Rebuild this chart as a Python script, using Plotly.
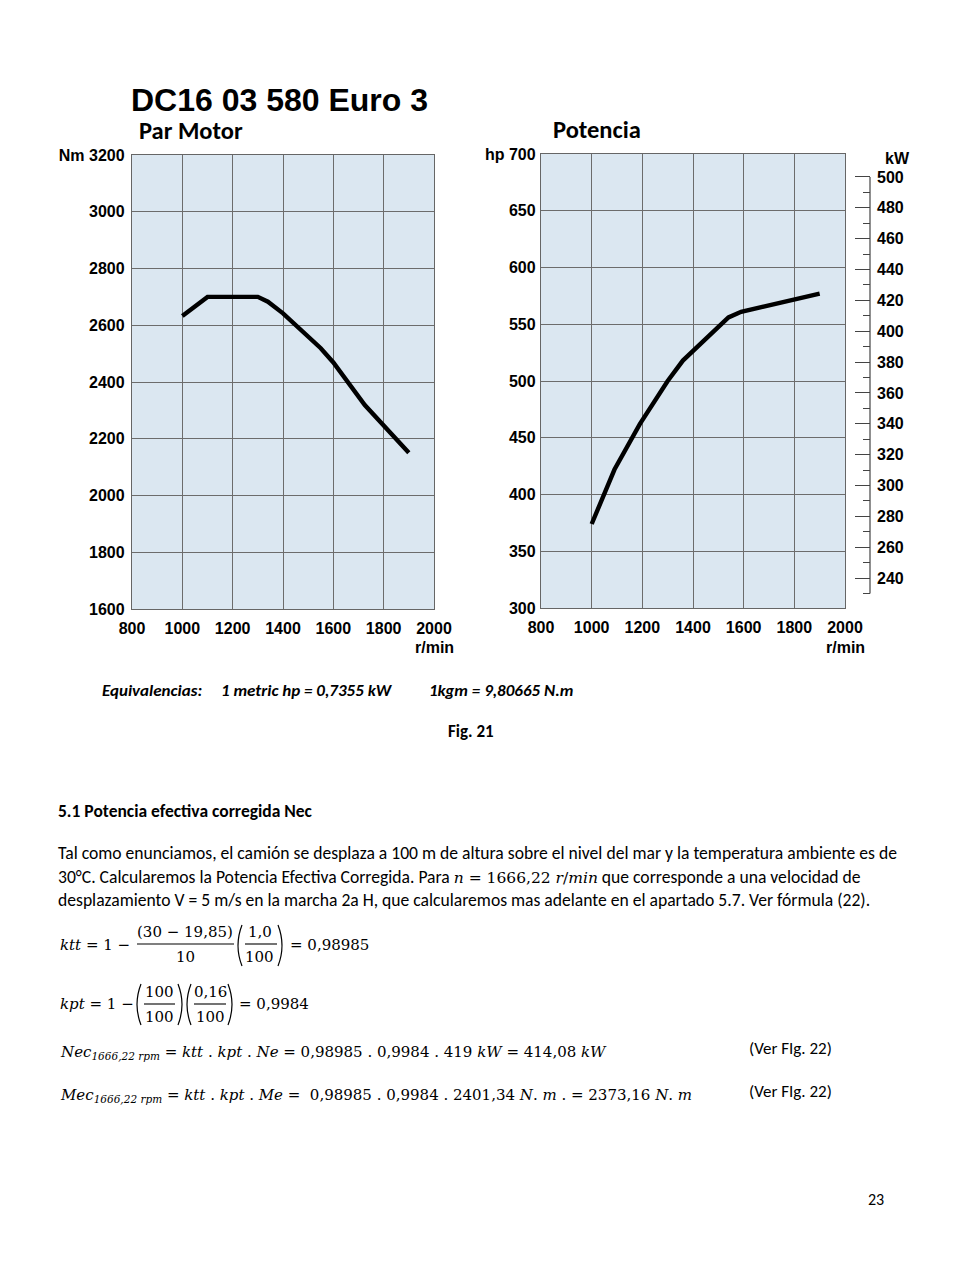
import plotly.graph_objects as go

# ---------------- data ----------------
rpm_ticks = [800, 1000, 1200, 1400, 1600, 1800, 2000]
nm_ticks = [1600, 1800, 2000, 2200, 2400, 2600, 2800, 3000, 3200]
nm_ticktext = ["1600", "1800", "2000", "2200", "2400", "2600", "2800", "3000", "Nm 3200"]
hp_ticks = [300, 350, 400, 450, 500, 550, 600, 650, 700]
hp_ticktext = ["300", "350", "400", "450", "500", "550", "600", "650", "hp 700"]
kw_ticks = [240, 260, 280, 300, 320, 340, 360, 380, 400, 420, 440, 460, 480, 500]
kw_minor = [230, 250, 270, 290, 310, 330, 350, 370, 390, 410, 430, 450, 470, 490]
HP_TO_KW = 0.7355

torque_rpm = [1000, 1100, 1300, 1340, 1400, 1550, 1600, 1725, 1900]
torque_nm = [2633, 2700, 2700, 2683, 2642, 2519, 2469, 2319, 2151]

power_rpm = [1000, 1090, 1190, 1300, 1360, 1540, 1590, 1900]
power_hp = [374, 422, 462, 500, 518, 556, 561, 577]
power_kw = [h * HP_TO_KW for h in power_hp]

# ---------------- helpers ----------------
W, H = 980, 1268
OX, OY = 8, 8  # page body margin offset


def X(px):
    return (px - OX) / W


def Y(py):
    return 1 - (py - OY) / H


AX_FONT = "Liberation Sans, Arial, sans-serif"
BODY = "Carlito, Lato, sans-serif"
MATH = "DejaVu Serif, Liberation Serif, serif"
FILL = "#dbe7f1"
GRID = "#6c6c6c"
BORDER = "#666666"

annotations = []
shapes = []


def txt(x, y, text, size, family=BODY, xanchor="left", weight="normal", color="#000000"):
    annotations.append(dict(
        x=X(x), y=Y(y), xref="paper", yref="paper", text=text, showarrow=False,
        xanchor=xanchor, yanchor="middle", borderpad=0,
        font=dict(family=family, size=size, color=color, weight=weight)))


def hline(x0, x1, y, width=1.1):
    shapes.append(dict(type="line", xref="paper", yref="paper", x0=X(x0), x1=X(x1),
                       y0=Y(y), y1=Y(y), line=dict(color="#000", width=width)))


def paren(xl, xr, ytop, ybot):
    mid = (ytop + ybot) / 2
    p1 = f"M {X(xl + 5)},{Y(ytop)} Q {X(xl - 3)},{Y(mid)} {X(xl + 5)},{Y(ybot)}"
    p2 = f"M {X(xr - 5)},{Y(ytop)} Q {X(xr + 3)},{Y(mid)} {X(xr - 5)},{Y(ybot)}"
    for p in (p1, p2):
        shapes.append(dict(type="path", xref="paper", yref="paper", path=p,
                           line=dict(color="#000", width=1.2)))


# ---------------- figure ----------------
fig = go.Figure()
fig.add_trace(go.Scatter(x=torque_rpm, y=torque_nm, mode="lines",
                         line=dict(color="#000", width=4.4), xaxis="x", yaxis="y",
                         hoverinfo="skip", showlegend=False))
fig.add_trace(go.Scatter(x=power_rpm, y=power_hp, mode="lines",
                         line=dict(color="#000", width=4.4), xaxis="x2", yaxis="y2",
                         hoverinfo="skip", showlegend=False))
fig.add_trace(go.Scatter(x=power_rpm, y=power_kw, mode="lines", opacity=0,
                         line=dict(color="#000", width=0), xaxis="x2", yaxis="y3",
                         hoverinfo="skip", showlegend=False))

tickfont = dict(family=AX_FONT, size=16, color="#000", weight="bold")
common_x = dict(range=[800, 2000], tickvals=rpm_ticks, showgrid=True, gridcolor=GRID,
                gridwidth=1.2, showline=True, linecolor=BORDER, linewidth=1.3, mirror=True,
                ticks="", tickfont=tickfont, zeroline=False, ticklabelstandoff=5,
                automargin=False)
common_y = dict(showgrid=True, gridcolor=GRID, gridwidth=1.2, showline=True,
                linecolor=BORDER, linewidth=1.3, mirror=True, ticks="", tickfont=tickfont,
                zeroline=False, automargin=False)

fig.update_layout(
    template="none",
    width=W, height=H, autosize=False,
    margin=dict(l=0, r=0, t=0, b=0, pad=0, autoexpand=False),
    paper_bgcolor="#ffffff", plot_bgcolor=FILL,
    showlegend=False,
    xaxis=dict(domain=[X(132), X(434)], anchor="y", **common_x),
    yaxis=dict(domain=[Y(609), Y(155)], anchor="x", range=[1600, 3200],
               tickvals=nm_ticks, ticktext=nm_ticktext, ticklabelstandoff=3, **common_y),
    xaxis2=dict(domain=[X(541), X(845)], anchor="y2", **common_x),
    yaxis2=dict(domain=[Y(608), Y(154)], anchor="x2", range=[300, 700],
                tickvals=hp_ticks, ticktext=hp_ticktext, ticklabelstandoff=1, **common_y),
    yaxis3=dict(overlaying="y2", anchor="free", position=X(870), side="right",
                range=[300 * HP_TO_KW, 700 * HP_TO_KW], tickvals=kw_ticks,
                ticks="inside", ticklen=15, tickwidth=1.2, tickcolor="#444",
                minor=dict(tickvals=kw_minor, ticks="inside", ticklen=7,
                           tickwidth=1.2, tickcolor="#444"),
                showgrid=False, showline=False, zeroline=False, automargin=False,
                tickfont=tickfont, ticklabelstandoff=6),
)

# kW axis line
shapes.append(dict(type="line", xref="paper", yref="y3", x0=X(870), x1=X(870),
                   y0=230, y1=500, line=dict(color="#444", width=1.2)))

# ---------------- chart texts ----------------
txt(130, 100, "DC16 03 580 Euro 3", 32, AX_FONT, weight="bold")
txt(138, 131, "Par Motor", 24.5, BODY, weight="bold")
txt(552, 130, "Potencia", 24.5, BODY, weight="bold")
txt(897, 158, "kW", 16, AX_FONT, xanchor="center", weight="bold")
txt(434, 647, "r/min", 16, AX_FONT, xanchor="center", weight="bold")
txt(845, 647, "r/min", 16, AX_FONT, xanchor="center", weight="bold")

# ---------------- body texts ----------------
txt(101, 690, "<i>Equivalencias:</i>", 17, BODY, weight="bold")
txt(220, 690, "<i>1 metric hp = 0,7355 kW</i>", 17, BODY, weight="bold")
txt(428, 690, "<i>1kgm = 9,80665 N.m</i>", 17, BODY, weight="bold")
txt(471, 731, "Fig. 21", 17, BODY, xanchor="center", weight="bold")
txt(57, 811, "5.1 Potencia efectiva corregida Nec", 17.5, BODY, weight="bold")

BS = 17.6
txt(57, 853, "Tal como enunciamos, el camión se desplaza a 100 m de altura sobre el nivel del mar y la temperatura ambiente es de", BS, BODY)
txt(57, 877, "30°C. Calcularemos la Potencia Efectiva Corregida. Para "
    "<span style='font-family:DejaVu Serif;font-size:15.5px'><i>n</i> = 1666,22 <i>r</i>/<i>min</i></span>"
    " que corresponde a una velocidad de", BS, BODY)
txt(57, 900, "desplazamiento V = 5 m/s en la marcha 2a H, que calcularemos mas adelante en el apartado 5.7. Ver fórmula (22).", BS, BODY)

# equation 1
MS = 15
txt(59, 945, "<i>ktt</i> = 1 −", MS, MATH)
txt(185, 932, "(30 − 19,85)", MS, MATH, xanchor="center")
hline(137, 234, 944)
txt(185, 957, "10", MS, MATH, xanchor="center")
paren(237, 283, 925, 966)
txt(260, 932, "1,0", MS, MATH, xanchor="center")
hline(245, 277, 944)
txt(260, 957, "100", MS, MATH, xanchor="center")
txt(289, 945, "= 0,98985", MS, MATH)

# equation 2
txt(59, 1004, "<i>kpt</i> = 1 −", MS, MATH)
paren(136, 183, 984, 1025)
txt(159, 992, "100", MS, MATH, xanchor="center")
hline(144, 175, 1004)
txt(159, 1017, "100", MS, MATH, xanchor="center")
paren(186, 233, 984, 1025)
txt(210, 992, "0,16", MS, MATH, xanchor="center")
hline(194, 226, 1004)
txt(210, 1017, "100", MS, MATH, xanchor="center")
txt(238, 1004, "= 0,9984", MS, MATH)

# equation 3 and 4
txt(59, 1052, "<i>Nec</i><sub><i>1666,22 rpm</i></sub> = <i>ktt</i> . <i>kpt</i> . <i>Ne</i> = 0,98985 . 0,9984 . 419 <i>kW</i> = 414,08 <i>kW</i>", MS, MATH)
txt(748, 1048, "(Ver FIg. 22)", 17, BODY)
txt(59, 1095, "<i>Mec</i><sub><i>1666,22 rpm</i></sub> = <i>ktt</i> . <i>kpt</i> . <i>Me</i> =  0,98985 . 0,9984 . 2401,34 <i>N</i>. <i>m</i> . = 2373,16 <i>N</i>. <i>m</i>", MS, MATH)
txt(748, 1091, "(Ver FIg. 22)", 17, BODY)

txt(876, 1199, "23", 16, BODY, xanchor="center")

fig.update_layout(annotations=annotations, shapes=shapes)
fig.write_html("out.html")
